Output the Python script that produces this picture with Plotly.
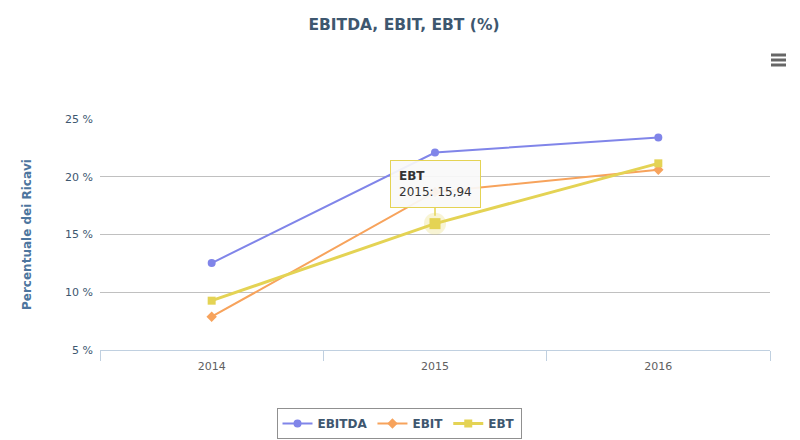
import plotly.graph_objects as go

years = ["2014", "2015", "2016"]
ebitda = [12.53, 22.1, 23.4]
ebit = [7.88, 18.68, 20.6]
ebt = [9.27, 15.94, 21.16]
y_ticks = [5, 10, 15, 20, 25]
y_tick_labels = ["5 %", "10 %", "15 %", "20 %", "25 %"]

FONT = "DejaVu Sans"
C1, C2, C3 = "#8085E9", "#F7A35C", "#E4D354"

W, H = 792, 432          # page body has an 8px margin
L, R, T, B = 92, 30, 111, 90
PW, PH = W - L - R, H - T - B

fig = go.Figure()
fig.add_trace(go.Scatter(x=years, y=ebitda, name="EBITDA", mode="lines+markers",
                         line=dict(color=C1, width=2),
                         marker=dict(symbol="circle", size=8, color=C1)))
fig.add_trace(go.Scatter(x=years, y=ebit, name="EBIT", mode="lines+markers",
                         line=dict(color=C2, width=2),
                         marker=dict(symbol="diamond", size=8, color=C2)))
fig.add_trace(go.Scatter(x=years, y=ebt, name="EBT", mode="lines+markers",
                         line=dict(color=C3, width=3),
                         marker=dict(symbol="square", size=8, color=C3)))
# hover halo on highlighted point
hi = 1
fig.add_trace(go.Scatter(x=[years[hi]], y=[ebt[hi]], mode="markers", showlegend=False,
                         marker=dict(symbol="circle", size=22, color="rgba(228,211,84,0.25)",
                                     line=dict(width=0)), hoverinfo="skip"))
fig.add_trace(go.Scatter(x=[years[hi]], y=[ebt[hi]], mode="markers", showlegend=False,
                         marker=dict(symbol="square", size=11, color=C3), hoverinfo="skip"))

fig.add_annotation(x=hi, y=ebt[hi], xref="x", yref="y",
                   text="<b>EBT</b><br>%s: %s" % (years[hi], ("%.2f" % ebt[hi]).replace(".", ",")),
                   align="left", showarrow=True, ax=0, ay=-40, arrowhead=0,
                   arrowcolor=C3, arrowwidth=1.5, standoff=8,
                   bgcolor="rgba(249,249,249,0.92)", bordercolor=C3, borderwidth=1, borderpad=8,
                   font=dict(family=FONT, size=12, color="#333333"))

# context menu icon
for yy in [47, 52, 57]:
    fig.add_shape(type="line", xref="paper", yref="paper",
                  x0=(763 - L) / PW, x1=(778 - L) / PW,
                  y0=(H - B - yy) / PH, y1=(H - B - yy) / PH,
                  line=dict(color="#666666", width=3))

fig.update_layout(
    width=W, height=H,
    margin=dict(l=L, r=R, t=T, b=B, autoexpand=False),
    paper_bgcolor="white", plot_bgcolor="white",
    font=dict(family=FONT, size=11, color="#606060"),
    title=dict(text="<b>EBITDA, EBIT, EBT (%)</b>", x=0.5, xanchor="center",
               y=1 - 17 / H, yanchor="middle",
               font=dict(family=FONT, size=15.5, color="#3E576F")),
    showlegend=True,
    legend=dict(orientation="h", xref="container", x=391 / W, xanchor="center",
                yref="container", y=1 - 400 / H, yanchor="top",
                bordercolor="#909090", borderwidth=1, bgcolor="white",
                font=dict(family=FONT, size=12, color="#3E576F", weight="bold"),
                traceorder="normal"),
    hovermode=False,
)
fig.update_xaxes(type="category", range=[-0.5, 2.5], showgrid=False,
                 showline=True, linecolor="#C0D0E0", linewidth=1,
                 ticks="outside", tickson="boundaries", ticklen=10, tickcolor="#C0D0E0",
                 ticklabelstandoff=6,
                 tickfont=dict(family=FONT, size=11, color="#606060"), zeroline=False)
fig.update_yaxes(range=[5, 25], tickvals=y_ticks, ticktext=y_tick_labels,
                 showgrid=True, gridcolor="#C0C0C0", gridwidth=1, zeroline=False,
                 showline=False, ticks="", ticklabelstandoff=6,
                 tickfont=dict(family=FONT, size=11, color="#3E576F"),
                 title=dict(text="<b>Percentuale dei Ricavi</b>", standoff=30,
                            font=dict(family=FONT, size=12, color="#4D759E")))

fig.write_html("out.html")
